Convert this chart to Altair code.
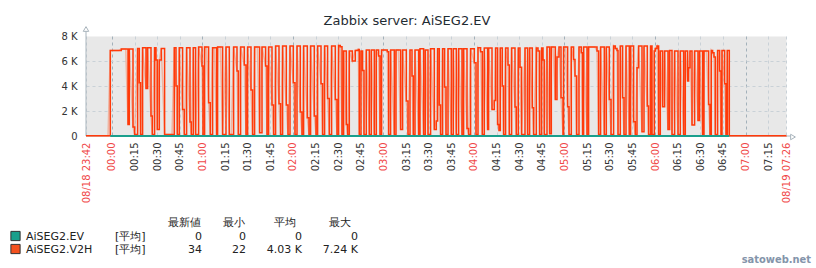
import altair as alt
import pandas as pd

# ---------------- data (minutes relative to 08/19 00:00) ----------------
v2h_t = [-17.17, -1.06, 6.23, 10.67, 11.53, 13.99, 15.05, 17.04, 18.16, 19.02, 20.35, 22.60, 23.66,
         25.92, 26.78, 28.30, 29.23, 30.09, 31.42, 32.75, 34.93, 41.36, 42.49, 43.35, 44.68, 46.86,
         47.99, 49.52, 51.77, 52.63, 53.96, 55.48, 57.47, 59.72, 60.39, 61.45, 64.10, 65.23, 66.75,
         69.40, 70.06, 73.38, 75.63, 77.82, 80.67, 82.92, 83.79, 85.31, 87.76, 88.89, 89.95, 92.20,
         93.26, 94.59, 97.90, 99.50, 101.88, 102.81, 103.87, 106.12, 107.19, 108.51, 110.76, 111.82,
         113.15, 115.60, 116.73, 118.06, 120.24, 121.37, 122.70, 124.88, 126.01, 127.07, 129.52,
         130.65, 131.71, 134.16, 135.29, 136.35, 138.61, 139.66, 140.99, 142.98, 144.11, 145.63,
         148.08, 149.21, 150.27, 151.40, 152.53, 153.59, 155.37, 156.24, 157.36, 159.35, 161.34,
         163.33, 163.99, 165.12, 166.18, 167.11, 168.63, 170.62, 171.95, 173.94, 175.26, 176.79,
         177.72, 178.77, 182.55, 183.42, 184.74, 187.19, 188.32, 191.37, 192.69, 195.15, 196.28,
         197.60, 198.93, 199.79, 200.92, 203.30, 204.23, 206.62, 207.74, 209.53, 211.25, 213.71,
         215.03, 215.90, 217.02, 217.88, 219.21, 220.53, 221.46, 222.79, 224.98, 226.30, 228.29,
         229.82, 232.07, 233.13, 235.38, 236.44, 237.77, 240.22, 241.35, 242.67, 244.40, 245.52,
         246.85, 249.04, 249.70, 251.96, 253.48, 254.34, 255.67, 256.59, 257.45, 258.78, 259.64,
         260.97, 262.56, 263.42, 264.95, 267.20, 268.06, 269.39, 270.51, 271.57, 273.83, 275.55,
         276.88, 278.67, 279.53, 281.32, 282.45, 283.51, 284.84, 285.77, 286.62, 288.41, 290.14,
         291.27, 293.92, 295.04, 296.37, 297.69, 299.02, 299.42, 302.07, 302.99, 304.52, 306.04,
         306.97, 308.03, 309.62, 311.15, 312.01, 312.67, 314.93, 315.99, 321.55, 322.62, 323.94,
         326.40, 327.72, 329.71, 330.84, 332.56, 333.69, 334.82, 335.48, 337.00, 338.52, 339.45,
         340.78, 342.96, 343.83, 345.82, 346.94, 348.07, 349.13, 351.38, 352.71, 354.89, 355.75,
         357.08, 358.01, 359.54, 360.20, 361.33, 362.39, 363.51, 365.04, 366.37, 368.62, 369.68,
         371.27, 373.00, 375.25, 376.77, 378.96, 380.08, 381.61, 382.27, 383.20, 384.53, 386.25,
         388.50, 389.56, 391.55, 392.48, 395.53, 396.46, 397.32, 398.18, 399.11, 399.97, 401.50,
         402.82, 403.75, 404.41, 406.13, 407.06, 407.92, 409.25, 446.83]
v2h_v = [25, 6850, 6960, 930, 6960, 720, 130, 7000, 4270, 130, 7070, 3810, 7070,
         1600, 130, 7070, 6080, 530, 6080, 7000, 130, 7070, 4000, 130, 7070, 2130,
         130, 7070, 1120, 130, 7070, 130, 7120, 5600, 130, 7120, 2670, 130, 7070,
         130, 7120, 130, 7120, 130, 7120, 5200, 130, 7120, 5680, 130, 7120, 3680,
         130, 7120, 270, 7120, 5600, 130, 7120, 2480, 130, 7200, 2590, 130,
         7200, 2480, 130, 7200, 4270, 130, 7200, 1920, 130, 7200, 1470,
         130, 7200, 1600, 130, 7200, 4190, 130, 7200, 3010, 130, 7200,
         2930, 130, 7240, 7150, 130, 6800, 930, 130, 6800, 6000, 6850,
         6930, 130, 6800, 5250, 130, 6880, 130, 6880, 130, 6880, 6400,
         130, 6880, 6750, 130, 6880, 130, 6880, 530, 6880, 2800, 130,
         6880, 4800, 130, 6880, 130, 6990, 130, 6880, 130, 6990, 530,
         1200, 6990, 2480, 130, 6990, 3920, 130, 6990, 130, 6990, 130,
         6990, 130, 6990, 610, 130, 6990, 5870, 130, 7070, 6750, 130,
         7040, 530, 7040, 2130, 2850, 7040, 930, 450, 7040, 4000, 130,
         7040, 5680, 130, 7040, 2320, 130, 7040, 5500, 130, 7040, 130,
         7040, 2270, 130, 7040, 6800, 130, 7040, 6080, 130, 7120, 190,
         7120, 2930, 6320, 7120, 3070, 130, 7120, 2350, 130, 7120, 6130,
         4800, 130, 7120, 6670, 130, 7120, 130, 7120, 6800, 130, 7120,
         130, 7120, 2930, 130, 7200, 7010, 6850, 130, 7200, 3070, 130,
         7200, 130, 7200, 1150, 130, 5470, 7200, 350, 7200, 2400, 130,
         7200, 130, 6800, 7010, 7200, 130, 6800, 2350, 6800, 530, 6850,
         130, 6800, 130, 6800, 130, 6800, 4400, 5470, 6800, 880, 6800,
         1250, 6800, 130, 6800, 2530, 130, 6850, 6670, 6320, 130, 6850,
         5200, 130, 6850, 4190, 130, 6850, 30, 34]
ev_t = [-1.06, 409.25]
ev_v = [0, 0]

x_tick_values = [-17.17, 0, 15, 30, 45, 60, 75, 90, 105, 120, 135, 150, 165, 180, 195, 210,
                 225, 240, 255, 270, 285, 300, 315, 330, 345, 360, 375, 390, 405, 420, 435, 446.83]
x_tick_labels = ["08/18 23:42", "00:00", "00:15", "00:30", "00:45", "01:00", "01:15", "01:30",
                 "01:45", "02:00", "02:15", "02:30", "02:45", "03:00", "03:15", "03:30", "03:45",
                 "04:00", "04:15", "04:30", "04:45", "05:00", "05:15", "05:30", "05:45", "06:00",
                 "06:15", "06:30", "06:45", "07:00", "07:15", "08/19 07:26"]
x_red_ticks = [-17.17, 0, 60, 120, 180, 240, 300, 360, 420, 446.83]
x_hour_grid = [0, 60, 120, 180, 240, 300, 360, 420]
y_tick_values = [0, 2000, 4000, 6000, 8000]
y_tick_labels = ["0", "2 K", "4 K", "6 K", "8 K"]

title_text = "Zabbix server: AiSEG2.EV"
stat_headers = ["最新値", "最小", "平均", "最大"]
legend_names = ["AiSEG2.EV", "AiSEG2.V2H"]
legend_colors = ["#1A9F8C", "#F4511E"]
legend_func = ["[平均]", "[平均]"]
legend_last = ["0", "34"]
legend_min = ["0", "22"]
legend_avg = ["0", "4.03 K"]
legend_max = ["0", "7.24 K"]
watermark = "satoweb.net"

# ---------------- style ----------------
FONT = "DejaVu Sans"
RED_LINE = "#FF3A0A"
TEAL = "#1A9F8C"
TXT = "#222222"
RED_TXT = "#F04848"
AXIS_GRAY = "#A9B4BC"
W, H = 700, 100


def arr(vals):
    return "[" + ",".join(repr(v) for v in vals) + "]"


x_scale = alt.Scale(domain=[x_tick_values[0], x_tick_values[-1]], nice=False, zero=False)
y_scale = alt.Scale(domain=[0, 8000], nice=False)

x_axis = alt.Axis(
    values=x_tick_values,
    labelExpr=f"{arr(x_tick_labels)}[indexof({arr(x_tick_values)}, datum.value)]",
    labelAngle=270, labelFont=FONT, labelFontSize=10, labelPadding=6,
    labelColor={"condition": {"test": f"indexof({arr(x_red_ticks)}, datum.value) >= 0",
                              "value": RED_TXT}, "value": "#333333"},
    labelOverlap=False, labelBound=False, labelFlush=False,
    grid=True, gridDash=[3, 3], gridWidth=1,
    gridColor={"condition": {"test": f"indexof({arr(x_hour_grid)}, datum.value) >= 0",
                             "value": "#A3B1BA"}, "value": "#C9D1D7"},
    ticks=False, domain=False, title=None,
)
y_axis = alt.Axis(
    values=y_tick_values,
    labelExpr=f"{arr(y_tick_labels)}[indexof({arr(y_tick_values)}, datum.value)]",
    labelFont=FONT, labelFontSize=10, labelPadding=9, labelColor="#333333",
    labelOverlap=False, labelBound=False, labelFlush=False,
    grid=True, gridDash=[3, 3], gridWidth=1,
    gridColor={"condition": {"test": "datum.value >= 8000 || datum.value <= 0",
                             "value": "transparent"}, "value": "#C9D1D7"},
    ticks=False, domain=False, title=None,
)
X = alt.X("t:Q", scale=x_scale, axis=x_axis)
Y = alt.Y("v:Q", scale=y_scale, axis=y_axis)

df = pd.DataFrame({"t": v2h_t, "v": v2h_v})

# pale (min/max shading look): connect consecutive readings linearly, but keep
# long holds flat until just before the next change
pale_t, pale_v = [], []
for i in range(len(v2h_t)):
    if i > 0 and v2h_t[i] - v2h_t[i - 1] > 2.5:
        pale_t.append(v2h_t[i] - 1.5)
        pale_v.append(v2h_v[i - 1])
    pale_t.append(v2h_t[i])
    pale_v.append(v2h_v[i])
df_pale = pd.DataFrame({"t": pale_t, "v": pale_v})
df_ev = pd.DataFrame({"t": ev_t, "v": ev_v})
one = pd.DataFrame({"k": [0]})

pale = alt.Chart(df_pale).mark_line(interpolate="linear", color="#F58A68", strokeWidth=1.5,
                                    opacity=0.55).encode(x=X, y=Y)
step = alt.Chart(df).mark_line(interpolate="step-after", color=RED_LINE,
                               strokeWidth=1.5).encode(x=X, y=Y)
ev = alt.Chart(df_ev).mark_line(color=TEAL, strokeWidth=2).encode(x=X, y=Y)

# axis lines with arrows
y_line = alt.Chart(one).mark_rule(color=AXIS_GRAY, strokeWidth=1).encode(
    x=alt.value(0), y=alt.value(-5), y2=alt.value(H))
x_line = alt.Chart(one).mark_rule(color=AXIS_GRAY, strokeWidth=1).encode(
    x=alt.value(0), x2=alt.value(W + 5), y=alt.value(H))
y_arrow = alt.Chart(one).mark_point(shape="triangle-up", filled=True, fill="white",
                                    stroke=AXIS_GRAY, strokeWidth=1, size=30, opacity=1).encode(
    x=alt.value(0), y=alt.value(-7))
x_arrow = alt.Chart(one).mark_point(shape="triangle-right", filled=True, fill="white",
                                    stroke=AXIS_GRAY, strokeWidth=1, size=30, opacity=1).encode(
    x=alt.value(W + 7), y=alt.value(H + 1))


def text_layer(txt, x, y, align="left", size=11, color=TXT, font=FONT, weight="normal"):
    return alt.Chart(pd.DataFrame({"s": [txt]})).mark_text(
        align=align, baseline="alphabetic", font=font, fontSize=size, color=color,
        fontWeight=weight).encode(x=alt.value(x), y=alt.value(y), text="s:N")


layers = [pale, y_line, x_line, step, ev, y_arrow, x_arrow]
layers.append(text_layer(title_text, 321, -11, align="center", size=13, color="#1F2C33"))

hdr_x = [98.5, 147.5, 198.5, 254]
for h, hx in zip(stat_headers, hdr_x):
    layers.append(text_layer(h, hx, 190, align="center"))

row_y = [204, 217]
for i in range(2):
    sq = alt.Chart(pd.DataFrame({"c": [legend_colors[i]]})).mark_square(
        size=85, stroke="#333333", strokeWidth=1, opacity=1).encode(
        x=alt.value(-70.5), y=alt.value(row_y[i] - 4), color=alt.Color("c:N", scale=None))
    layers.append(sq)
    layers.append(text_layer(legend_names[i], -60, row_y[i]))
    layers.append(text_layer(legend_func[i], 29, row_y[i]))
    for val, cx in zip([legend_last[i], legend_min[i], legend_avg[i], legend_max[i]],
                       [116, 160, 216, 272]):
        layers.append(text_layer(val, cx, row_y[i], align="right"))

layers.append(text_layer(watermark, 725, 227, align="right", size=11, color="#8494AA",
                         font="DejaVu Sans Condensed, Liberation Sans Narrow, DejaVu Sans",
                         weight="bold"))

chart = alt.layer(*layers).properties(
    width=W, height=H,
    autosize=alt.AutoSizeParams(type="none"),
    padding={"left": 86, "top": 36, "right": 30, "bottom": 132},
    background="white",
).configure_view(fill="#E8E8E8", strokeOpacity=0)

chart.save("out.html", embed_options={"renderer": "svg", "actions": False})
